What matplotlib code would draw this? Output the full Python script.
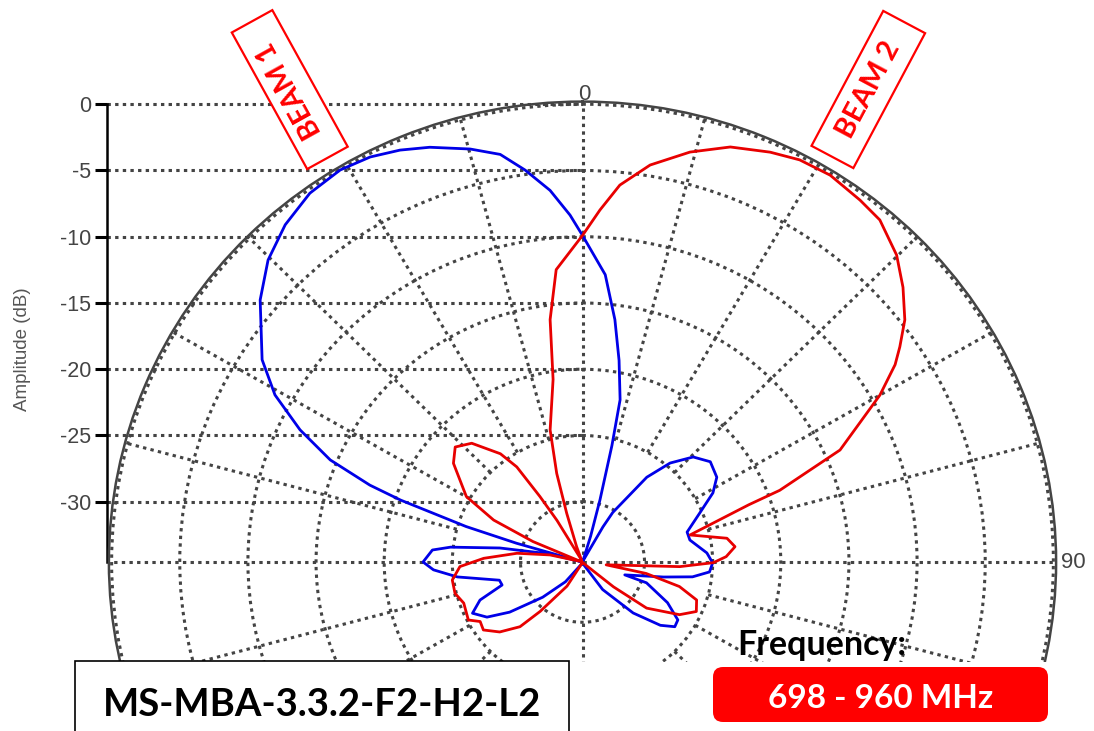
import numpy as np
import matplotlib
matplotlib.use("Agg")
import matplotlib.pyplot as plt
from matplotlib.patches import Rectangle, Polygon, FancyBboxPatch

# ---- data: azimuth (deg, clockwise from boresight) and amplitude (dB)
beam1_angle = [-180, -150, -140, -132.3, -125.3, -120.7, -115.6, -110.9, -106.4, -102.7,
               -97, -93.1, -90, -85.3, -83.4, -80.1, -76, -74.8, -73.7, -72.6,
               -70.7, -69.6, -67.4, -64.3, -60.8, -57.0, -50.1, -45.35, -40.6, -35.7,
               -31, -27, -23.3, -19.7, -14.8, -11.1, -8.1, -4.85, -2.0, 0,
               4.4, 7.4, 10, 12.7, 13.8, 15.3, 17, 19,
               26, 29.5, 30.7, 36.4, 40.7, 45.7, 51.1, 57, 61.4, 66.8,
               73.6, 78.1, 85.7, 90.4, 94.6, 97.9, 100.8, 107.4, 108.5, 116.2,
               122, 125.8, 129.9, 136, 144.6, 155, 180]
beam1_db = [-34.5, -34.3, -32.6, -30.6, -28.0, -26.4, -25.6, -26.5, -28.4, -28.3,
            -25.3, -23.6, -22.85, -23.5, -24.8, -28.4, -32.0, -34.4, -29.5, -25.6,
            -20.4, -17.9, -14.5, -11.55, -8.7, -6.52, -3.72, -2.12, -1.03, -0.27,
            -0.03, -0.24, -0.7, -1.3, -2.31, -3.2, -4.67, -6.4, -8.35, -9.9,
            -12.8, -16.1, -19.1, -22.0, -25.5, -29.7, -32.5, -34.4,
            -34.4, -31.5, -30.2, -26.6, -24.7, -23.2, -22.5, -22.8, -23.65, -25.2,
            -26.55, -26.5, -25.4, -25.0, -25.2, -26.4, -28.5, -31.3, -29.6, -27.6,
            -26.3, -26.2, -27.1, -29.2, -32.0, -34.3, -34.5]

beam2_angle = [-180, -155, -148, -140.2, -136.8, -131, -125.2, -120.9, -117.6, -109.6,
               -104.2, -98.1, -92.2, -87.8, -82.2, -77.4, -73, -67, -64.1, -59.9,
               -51.8, -47.1, -42.2, -36.4, -33.9, -32.3, -30.8, -26, -20.4, -17.5,
               -15.8, -13.4, -8.9, -7.4, -5.0, 0, 2.76, 5.5, 9.4, 14.3,
               19.1, 24, 27.7, 31.9, 36.7, 40.2, 44.85, 48.6, 52.3, 55.1,
               57.0, 60.0, 65.9, 69.5, 70.5, 75.5, 80.4, 84.1, 87.8, 90.3,
               92.8, 97, 100.5, 104.6, 108.9, 114.1, 119.2, 126.5, 129.5, 140, 180]
beam2_db = [-34.5, -34.4, -32.4, -29.7, -27.85, -26.5, -25.65, -25.8, -25.1, -25.3,
            -24.9, -24.9, -25.55, -27.3, -29.7, -32.1, -34.4, -30.6, -27.3, -24.7,
            -22.5, -21.8, -22.45, -24.4, -25.9, -28.7, -30.9, -34.4, -33.3, -30.7,
            -27.6, -24.3, -20.6, -16.1, -12.4, -9.9, -7.95, -5.97, -4.18, -2.62,
            -1.4, -0.69, -0.27, -0.16, -0.48, -0.75, -1.87, -3.2, -4.66, -6.16,
            -7.2, -9.35, -13.85, -19.1, -21.6, -26.4, -23.8, -23.3, -24.0, -24.95,
            -27.4, -32.8, -29.8, -27.2, -25.7, -25.4, -26.4, -28.7, -31.6, -34.4, -34.5]

amp_ticks = [0, -5, -10, -15, -20, -25, -30]
spoke_angles = list(range(0, 360, 15))
r_min, r_max = -34.55, 0.2

W, H = 1094, 731
fig = plt.figure(figsize=(W / 100, H / 100), dpi=100)
fig.patch.set_facecolor("white")

grid_col = "#444444"
dots = (0, (1.1, 1.4))
grid_lw = 2.2

# polar plot area (slightly wider than tall, like the source picture)
cx, cy = 582.5, 562
rx, ry = 473.6, 460.4
ax = fig.add_axes([(cx - rx) / W, 1 - (cy + ry) / H, 2 * rx / W, 2 * ry / H],
                  projection="polar", zorder=1)
ax.set_aspect("auto")
ax.patch.set_facecolor("none")
ax.set_theta_zero_location("N")
ax.set_theta_direction(-1)
ax.set_ylim(r_min, r_max)
ax.set_xticks(np.radians(spoke_angles))
ax.set_xticklabels([])
ax.set_yticks(amp_ticks)
ax.set_yticklabels([])
ax.xaxis.grid(False)
ax.yaxis.grid(True, color=grid_col, linestyle=dots, linewidth=grid_lw)
ax.spines["polar"].set_color(grid_col)
ax.spines["polar"].set_linewidth(1.8)
ax.tick_params(length=0)

# radial lines: the four main ones reach the centre, the others stop at -25 dB
for a in spoke_angles:
    r0 = r_min if a % 90 == 0 else -25
    ax.plot(np.radians([a, a]), [r0, r_max], color=grid_col, linestyle=dots,
            lw=grid_lw, zorder=2)

ax.plot(np.radians(beam1_angle), beam1_db, color="#0000e8", lw=2.0, zorder=3)
ax.plot(np.radians(beam2_angle), beam2_db, color="#e80000", lw=2.0, zorder=4)

# amplitude scale on the left with horizontal guide lines
ay = fig.add_axes([107 / W, 1 - cy / H, (583 - 107) / W, ry / H], zorder=0)
ay.set_ylim(r_min, r_max)
ay.set_xlim(0, 1)
ay.set_yticks(amp_ticks)
ay.set_yticklabels([str(t) for t in amp_ticks], fontsize=15.5,
                   family="Liberation Sans", color="#444444")
ay.set_xticks([])
for s in ["top", "right", "bottom"]:
    ay.spines[s].set_visible(False)
ay.spines["left"].set_linewidth(1.8)
ay.spines["left"].set_bounds(r_min, 0)
ay.tick_params(axis="y", length=8.5, width=2.2, pad=3, color="black")
ay.yaxis.grid(True, color=grid_col, linestyle=dots, linewidth=grid_lw)
ay.patch.set_facecolor("none")
ay.set_ylabel("Amplitude (dB)", fontsize=13.5, family="Liberation Sans",
              color="#555555")
ay.yaxis.set_label_coords((31 - 107) / 476, (cy - 349) / ry)

# overlay in pixel coordinates for labels and boxes
ov = fig.add_axes([0, 0, 1, 1], zorder=5)
ov.set_xlim(0, W)
ov.set_ylim(H, 0)
ov.axis("off")
ov.patch.set_facecolor("none")

ov.text(584, 100, "0", ha="center", va="baseline", fontsize=16,
        family="Liberation Sans", color="#444444")
ov.text(1061, 568, "90", ha="left", va="baseline", fontsize=16,
        family="Liberation Sans", color="#444444")

# chart is cut off at the bottom
ov.add_patch(Rectangle((0, 662), W, 80, facecolor="white", edgecolor="none"))


def tilted_box(c, length, width, ang_deg):
    a = np.radians(ang_deg)
    d = np.array([np.cos(a), np.sin(a)])
    n = np.array([-np.sin(a), np.cos(a)])
    c = np.array(c)
    pts = [c + length / 2 * d + width / 2 * n, c + length / 2 * d - width / 2 * n,
           c - length / 2 * d - width / 2 * n, c - length / 2 * d + width / 2 * n]
    return Polygon(pts, closed=True, facecolor="white", edgecolor="#ff0000", lw=1.6)


ov.add_patch(tilted_box((289.75, 89.6), 156, 46.3, 61.1))
ov.text(289.75, 89.6, "BEAM 1", rotation=119, rotation_mode="anchor", ha="center",
        va="center", fontsize=20.5, family="Lato", weight="bold", color="#ff0000")
ov.add_patch(tilted_box((868.3, 89.5), 152.8, 47.4, 118.0))
ov.text(868.3, 89.5, "BEAM 2", rotation=62, rotation_mode="anchor", ha="center",
        va="center", fontsize=20.5, family="Lato", weight="bold", color="#ff0000")

ov.add_patch(Rectangle((74.5, 660.7), 569 - 74.5, 100, facecolor="white",
                       edgecolor="black", lw=1.2))
ov.text(322, 716, "MS-MBA-3.3.2-F2-H2-L2", ha="center", va="baseline",
        fontsize=27.5, family="Lato", weight="bold", color="black")

ov.text(737, 655, "Frequency:", ha="left", va="baseline", fontsize=24.5,
        family="Lato", weight="bold", color="black")
ov.add_patch(FancyBboxPatch((713, 667), 335, 55,
                            boxstyle="round,pad=0,rounding_size=10",
                            facecolor="#ff0000", edgecolor="none"))
ov.text(881, 708, "698 - 960 MHz", ha="center", va="baseline", fontsize=24,
        family="Lato", weight="bold", color="white")

fig.savefig("out.png", dpi=100, facecolor="white")
